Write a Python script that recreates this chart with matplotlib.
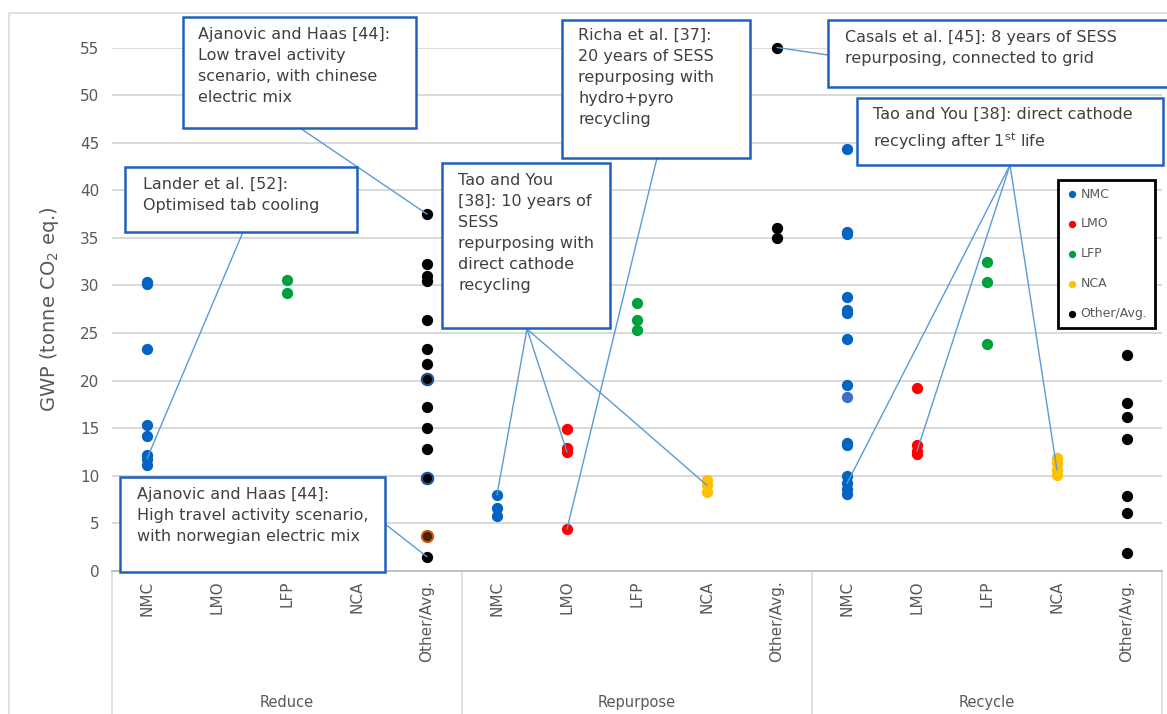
import matplotlib
matplotlib.use("Agg")
import matplotlib.pyplot as plt
from matplotlib.patches import Rectangle, ConnectionPatch
from matplotlib.transforms import blended_transform_factory

plt.rcParams["font.family"] = "DejaVu Sans"

W, H = 1167, 714

# --- data -------------------------------------------------------------
groups = ["Reduce", "Repurpose", "Recycle"]
chemistries = ["NMC", "LMO", "LFP", "NCA", "Other/Avg."]
tick_labels = chemistries * 3

reduce_nmc = [30.4, 30.2, 23.3, 15.3, 14.2, 12.2, 11.8, 11.1]
reduce_lfp = [30.6, 29.2]
reduce_other = [37.5, 32.3, 31.0, 30.5, 26.4, 23.3, 21.7, 17.2, 15.0, 12.8, 1.5]
reduce_other_blue = [20.2, 9.8]
reduce_other_brown = [3.7]

repurpose_nmc = [8.0, 6.6, 5.8]
repurpose_lmo = [14.9, 12.9, 12.5, 4.4]
repurpose_lfp = [28.2, 26.4, 25.3]
repurpose_nca = [9.6, 9.0, 8.3]
repurpose_other = [55.0, 36.0, 35.0]

recycle_nmc = [44.3, 35.6, 35.4, 28.8, 27.4, 27.1, 24.4, 19.5,
               13.5, 13.2, 10.0, 9.2, 8.6, 8.1]
recycle_nmc_light = [18.3]
recycle_lmo = [19.2, 13.2, 12.6, 12.3]
recycle_lfp = [32.5, 30.4, 23.8]
recycle_nca = [11.9, 11.3, 10.6, 10.1]
recycle_other = [22.7, 17.7, 16.2, 13.9, 7.9, 6.1, 1.9]

COL = {
    "NMC": "#0563C1",
    "LMO": "#FF0000",
    "LFP": "#00A03E",
    "NCA": "#FFC000",
    "Other/Avg.": "#000000",
}
BOX_EDGE = "#1F60C0"
LEADER = "#5B9BD5"
GRID = "#D9D9D9"
TXT = "#595959"


def pos(group, chem):
    return groups.index(group) * 5 + chemistries.index(chem)


def fx(x):
    return x / W


def fy(y):
    return 1 - y / H


fig = plt.figure(figsize=(W / 100, H / 100), dpi=100)
ax = fig.add_axes([fx(112), fy(571), 1050 / W, 523.5 / H])

series = [
    ("Reduce", "NMC", reduce_nmc),
    ("Reduce", "LFP", reduce_lfp),
    ("Reduce", "Other/Avg.", reduce_other),
    ("Repurpose", "NMC", repurpose_nmc),
    ("Repurpose", "LMO", repurpose_lmo),
    ("Repurpose", "LFP", repurpose_lfp),
    ("Repurpose", "NCA", repurpose_nca),
    ("Repurpose", "Other/Avg.", repurpose_other),
    ("Recycle", "NMC", recycle_nmc),
    ("Recycle", "LMO", recycle_lmo),
    ("Recycle", "LFP", recycle_lfp),
    ("Recycle", "NCA", recycle_nca),
    ("Recycle", "Other/Avg.", recycle_other),
]
handles = {}
for grp, chem, vals in series:
    h = ax.scatter([pos(grp, chem)] * len(vals), vals, s=66, color=COL[chem],
                   linewidths=0, zorder=3, clip_on=False)
    handles.setdefault(chem, h)

# odd ones: black dots with a blue rim, a brownish one, a lighter blue one
ax.scatter([pos("Reduce", "Other/Avg.")] * len(reduce_other_blue), reduce_other_blue,
           s=66, color="black", edgecolors="#1F4E9A", linewidths=1.6, zorder=3)
ax.scatter([pos("Reduce", "Other/Avg.")] * len(reduce_other_brown), reduce_other_brown,
           s=66, color="#4A2208", edgecolors="#C55A11", linewidths=1.4, zorder=3)
ax.scatter([pos("Recycle", "NMC")] * len(recycle_nmc_light), recycle_nmc_light,
           s=66, color="#3D6FC4", linewidths=0, zorder=3)

# axes styling
ax.set_xlim(-0.5, 14.5)
ax.set_ylim(0, 55)
ax.set_yticks(range(0, 56, 5))
ax.yaxis.grid(True, color=GRID, lw=1.4)
ax.set_axisbelow(True)
for s in ["top", "right", "left"]:
    ax.spines[s].set_visible(False)
ax.spines["bottom"].set_color("#BFBFBF")
ax.spines["bottom"].set_linewidth(1.4)
ax.tick_params(axis="y", length=0, pad=9, labelsize=11, labelcolor=TXT)
ax.set_xticks(range(15))
ax.set_xticklabels(tick_labels, rotation=90, va="top")
ax.tick_params(axis="x", length=0, pad=7, labelsize=11, labelcolor=TXT)
ax.set_ylabel("GWP (tonne CO$_2$ eq.)", fontsize=14, color=TXT, labelpad=14)

# multi-level category axis
trans = blended_transform_factory(ax.transData, ax.transAxes)
for xs in [-0.5, 4.5, 9.5, 14.5]:
    ax.plot([xs, xs], [0, -0.32], color=GRID, lw=1.2, transform=trans, clip_on=False)
for i, g in enumerate(groups):
    ax.text(i * 5 + 2, -0.252, g, transform=trans, ha="center", va="center",
            fontsize=10.5, color=TXT)

# legend
leg = ax.legend([handles[c] for c in chemistries], chemistries,
                loc="upper left", bbox_to_anchor=(fx(1058), fy(180)),
                bbox_transform=fig.transFigure, borderaxespad=0,
                fontsize=9, labelspacing=1.35, handletextpad=0.2,
                handlelength=1.0, borderpad=0.6, markerscale=0.65,
                fancybox=False, framealpha=1, edgecolor="black")
leg.get_frame().set_linewidth(2)
for t in leg.get_texts():
    t.set_color(TXT)

# outer chart border
fig.add_artist(Rectangle((fx(9), fy(740)), (1200 - 9) / W, (740 - 13) / H,
                         transform=fig.transFigure, fill=False,
                         edgecolor=GRID, lw=1.2, zorder=0))


def note(x0, y0, x1, y1, text, tx, ty, leaders):
    fig.add_artist(Rectangle((fx(x0), fy(y1)), (x1 - x0) / W, (y1 - y0) / H,
                             transform=fig.transFigure, facecolor="white",
                             edgecolor=BOX_EDGE, lw=1.8, zorder=5))
    fig.text(fx(tx), fy(ty), text, ha="left", va="top", fontsize=11.5,
             color="#404040", linespacing=1.5, zorder=6)
    for (sx, sy), (px, py) in leaders:
        con = ConnectionPatch(xyA=(fx(sx), fy(sy)), coordsA="figure fraction",
                              xyB=(px, py), coordsB="data", axesB=ax,
                              color=LEADER, lw=1.0, zorder=4)
        fig.add_artist(con)


note(183, 17, 416, 128,
     "Ajanovic and Haas [44]:\nLow travel activity\nscenario, with chinese\nelectric mix",
     198, 27, [((300, 128), (pos("Reduce", "Other/Avg."), reduce_other[0]))])
note(125, 167, 357, 232,
     "Lander et al. [52]:\nOptimised tab cooling",
     143, 177, [((243, 232), (pos("Reduce", "NMC"), reduce_nmc[-2]))])
note(120, 477, 385, 572,
     "Ajanovic and Haas [44]:\nHigh travel activity scenario,\nwith norwegian electric mix",
     137, 487, [((385, 524), (pos("Reduce", "Other/Avg."), reduce_other[-1]))])
note(442, 163, 610, 328,
     "Tao and You\n[38]: 10 years of\nSESS\nrepurposing with\ndirect cathode\nrecycling",
     458, 173, [((527, 329), (pos("Repurpose", "NMC"), repurpose_nmc[0])),
                ((527, 329), (pos("Repurpose", "LMO"), repurpose_lmo[2])),
                ((527, 329), (pos("Repurpose", "NCA"), repurpose_nca[1]))])
note(562, 20, 750, 158,
     "Richa et al. [37]:\n20 years of SESS\nrepurposing with\nhydro+pyro\nrecycling",
     578, 28, [((657, 158), (pos("Repurpose", "LMO"), repurpose_lmo[-1]))])
note(828, 20, 1180, 87,
     "Casals et al. [45]: 8 years of SESS\nrepurposing, connected to grid",
     845, 30, [((828, 55), (pos("Repurpose", "Other/Avg."), repurpose_other[0]))])
note(857, 98, 1163, 165,
     "Tao and You [38]: direct cathode\nrecycling after 1$^{\\mathrm{st}}$ life",
     873, 107, [((1010, 165), (pos("Recycle", "NMC"), recycle_nmc[-3])),
                ((1010, 165), (pos("Recycle", "LMO"), recycle_lmo[2])),
                ((1010, 165), (pos("Recycle", "NCA"), recycle_nca[2]))])

fig.savefig("out.png", dpi=100, facecolor="white")
